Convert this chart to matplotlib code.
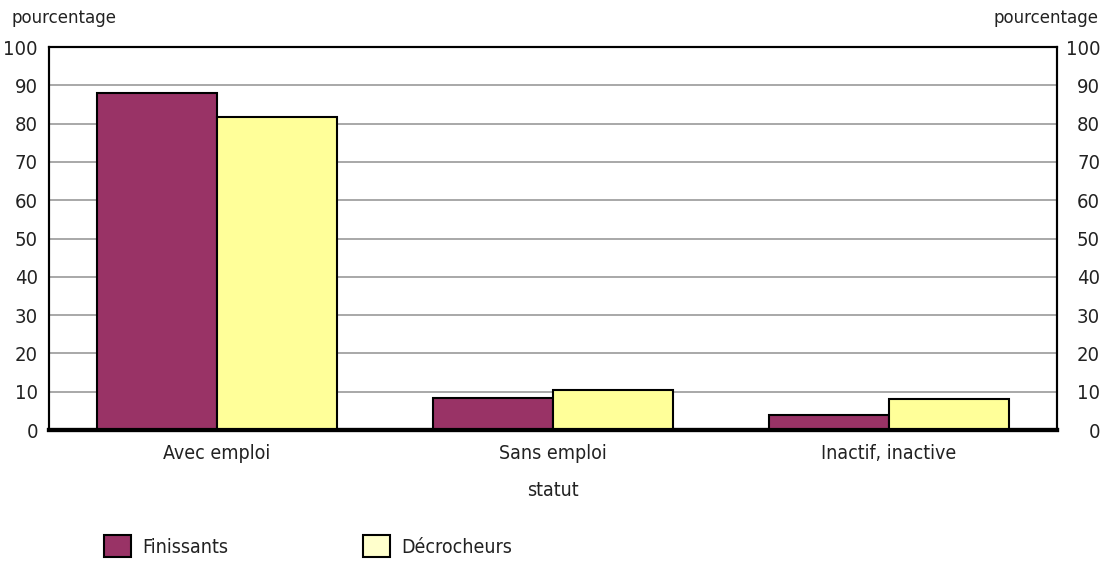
import numpy as np
import matplotlib.pyplot as plt
from matplotlib.patches import Patch

plt.rcParams['font.family'] = ['DejaVu Sans']
plt.rcParams['font.stretch'] = 'condensed'
plt.rcParams['text.color'] = '#222222'
plt.rcParams['xtick.color'] = '#222222'
plt.rcParams['ytick.color'] = '#222222'

categories = ["Avec emploi", "Sans emploi", "Inactif, inactive"]
finissants = [88.0, 8.4, 3.8]
decrocheurs = [81.7, 10.5, 8.0]
series_names = ["Finissants", "Décrocheurs"]
colors = ["#993366", "#FFFF99"]
legend_colors = ["#993366", "#FFFFCC"]

fig = plt.figure(figsize=(11.06, 5.63), dpi=100)
ax = fig.add_axes([0.0443, 0.2362, 0.9114, 0.6803])

x = np.arange(len(categories))
w = 0.357
ax.bar(x - w / 2, finissants, w, color=colors[0], edgecolor="black", linewidth=1.5, zorder=3)
ax.bar(x + w / 2, decrocheurs, w, color=colors[1], edgecolor="black", linewidth=1.5, zorder=3)

ax.set_xlim(-0.5, 2.5)
ax.set_ylim(0, 100)
ax.set_yticks(range(0, 101, 10))
ax.yaxis.grid(True, color="#999999", linewidth=1.2, zorder=0)
ax.tick_params(axis="y", length=0, labelsize=14.5, pad=8)
ax.tick_params(axis="x", length=0, labelsize=14, pad=10)
ax.set_xticks(x)
ax.set_xticklabels(categories)

# right-hand scale, right-aligned like the source
ax2 = ax.twinx()
ax2.set_ylim(0, 100)
ax2.set_yticks(range(0, 101, 10))
ax2.tick_params(axis="y", length=0, labelsize=14.5, pad=31)
for lab in ax2.get_yticklabels():
    lab.set_horizontalalignment("right")

for a in (ax, ax2):
    for side in ["left", "top", "right"]:
        a.spines[side].set_linewidth(1.5)
    a.spines["bottom"].set_linewidth(3)

fig.text(0.5, 0.128, "statut", fontsize=14, ha="center", va="center")

fig.text(0.010, 0.968, "pourcentage", fontsize=13.3, ha="left", va="center")
fig.text(0.993, 0.968, "pourcentage", fontsize=13.3, ha="right", va="center")

for i, name in enumerate(series_names):
    h = Patch(facecolor=legend_colors[i], edgecolor="black", linewidth=1.5)
    leg = fig.legend([h], [name], loc="center left",
                     bbox_to_anchor=([0.094, 0.328][i], 0.030),
                     frameon=False, fontsize=14, handlelength=1.4, handleheight=1.35,
                     handletextpad=0.57, borderpad=0, borderaxespad=0)

fig.savefig("out.png", dpi=100)
